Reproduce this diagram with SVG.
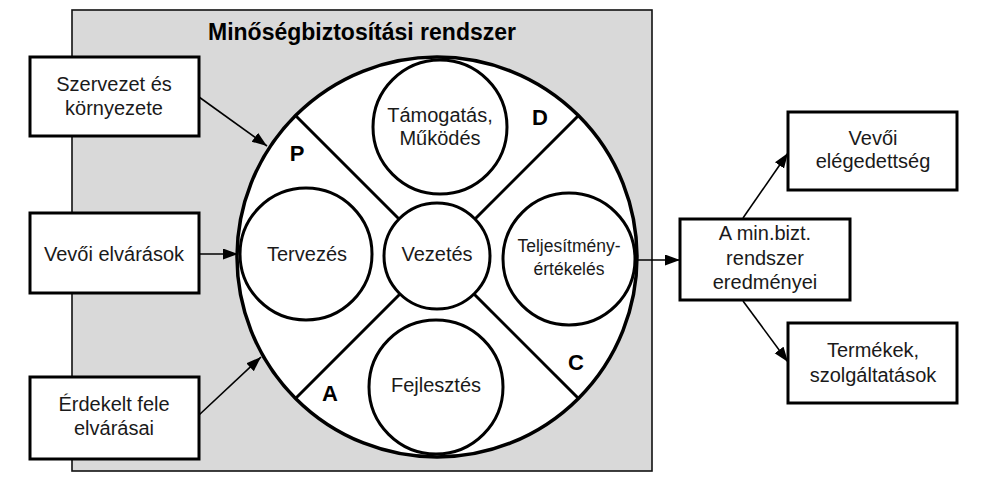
<svg xmlns="http://www.w3.org/2000/svg" width="983" height="482" viewBox="0 0 983 482">
<style>
text{font-family:"Liberation Sans",Arial,sans-serif;font-size:20px;fill:#1a1a1a;text-anchor:middle}
.b{font-weight:bold;font-size:22px;fill:#000}
.t{font-size:23px}
.box{fill:#fff;stroke:#000;stroke-width:3}
.c{fill:#fff;stroke:#000;stroke-width:3}
.div{stroke:#000;stroke-width:3;fill:none}
.arr{stroke:#000;stroke-width:1.6;fill:none;marker-end:url(#ah)}
</style>
<defs>
<marker id="ah" markerUnits="userSpaceOnUse" markerWidth="16" markerHeight="12" refX="15" refY="5.5" orient="auto">
<path d="M0,0 L15,5.5 L0,11 z" fill="#000"/>
</marker>
</defs>
<g id="container">
<rect x="72" y="10" width="580" height="461" fill="#d9d9d9" stroke="#111" stroke-width="1.6"/>
<text class="b t" x="362" y="40">Minőségbiztosítási rendszer</text>
</g>
<g id="pdca">
<circle cx="437" cy="257" r="200" fill="#fff" stroke="#000" stroke-width="3.5"/>
<line class="div" x1="296" y1="116" x2="400" y2="220"/>
<line class="div" x1="578" y1="116" x2="474" y2="220"/>
<line class="div" x1="296" y1="398" x2="400" y2="294"/>
<line class="div" x1="578" y1="398" x2="474" y2="294"/>
<text class="b" x="297" y="161">P</text>
<text class="b" x="540" y="125">D</text>
<text class="b" x="576" y="370">C</text>
<text class="b" x="330" y="401">A</text>
</g>
<g id="vezetes">
<circle class="c" cx="437" cy="256" r="53"/>
<text x="437" y="261">Vezetés</text>
</g>
<g id="tamogatas">
<circle class="c" cx="440" cy="127" r="67"/>
<text x="440" y="122">Támogatás,</text>
<text x="440" y="145">Működés</text>
</g>
<g id="fejlesztes">
<circle class="c" cx="436" cy="387" r="67"/>
<text x="436" y="392">Fejlesztés</text>
</g>
<g id="tervezes">
<circle class="c" cx="306" cy="254" r="66"/>
<text x="307" y="261">Tervezés</text>
</g>
<g id="teljesitmeny">
<circle class="c" cx="569" cy="259" r="66"/>
<text x="569" y="252" style="font-size:17.5px">Teljesítmény-</text>
<text x="569" y="275" style="font-size:17.5px">értékelés</text>
</g>
<g id="szervezet">
<rect class="box" x="30" y="57" width="169" height="79"/>
<text x="114" y="91">Szervezet és</text>
<text x="114" y="115">környezete</text>
</g>
<g id="vevoi-elvarasok">
<rect class="box" x="30" y="213" width="169" height="80"/>
<text x="114" y="261">Vevői elvárások</text>
</g>
<g id="erdekelt">
<rect class="box" x="30" y="377" width="169" height="82"/>
<text x="114" y="411">Érdekelt fele</text>
<text x="114" y="435">elvárásai</text>
</g>
<g id="eredmenyek">
<rect class="box" x="680" y="219" width="170" height="81"/>
<text x="765" y="240">A min.bizt.</text>
<text x="765" y="265">rendszer</text>
<text x="765" y="289">eredményei</text>
</g>
<g id="vevoi-elegedettseg">
<rect class="box" x="788" y="112" width="169" height="78"/>
<text x="873" y="145">Vevői</text>
<text x="873" y="168">elégedettség</text>
</g>
<g id="termekek">
<rect class="box" x="788" y="323" width="169" height="80"/>
<text x="873" y="357">Termékek,</text>
<text x="873" y="382">szolgáltatások</text>
</g>
<g id="connectors">
<line class="arr" x1="199" y1="97" x2="267" y2="146"/>
<line class="arr" x1="199" y1="254" x2="238" y2="254"/>
<line class="arr" x1="199" y1="415" x2="261" y2="357"/>
<line class="arr" x1="637" y1="260" x2="680" y2="260"/>
<line class="arr" x1="743" y1="218" x2="788" y2="153"/>
<line class="arr" x1="743" y1="301" x2="788" y2="362"/>
</g>
</svg>
